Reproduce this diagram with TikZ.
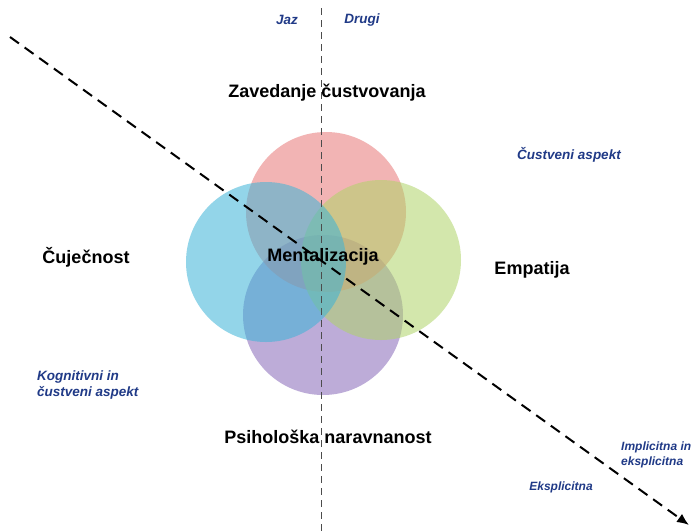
\documentclass[tikz,border=0pt]{standalone}
\usepackage{fontspec}
\setmainfont{Liberation Sans}
\usetikzlibrary{arrows.meta}
\definecolor{labblue}{RGB}{32,58,135}
\definecolor{cred}{RGB}{232,120,120}
\definecolor{cblue}{RGB}{60,180,215}
\definecolor{cgreen}{RGB}{175,212,105}
\definecolor{cpurple}{RGB}{135,105,185}
\tikzset{
  circ/.style={circle, minimum size=160pt, inner sep=0pt, draw=none, fill opacity=0.55},
  mainlab/.style={font=\bfseries\fontsize{18}{20}\selectfont, text=black, inner sep=1pt},
  sidelab/.style={font=\bfseries\itshape\fontsize{13.5}{15.5}\selectfont, text=labblue, inner sep=1pt, align=left},
  smalllab/.style={sidelab, font=\bfseries\itshape\fontsize{12}{14.5}\selectfont},
  vline/.style={draw=black!70, line width=1pt, dash pattern=on 7pt off 5pt},
  dline/.style={draw=black, line width=2pt, dash pattern=on 11pt off 7pt, -{Latex[length=12pt,width=10pt]}}
}
\begin{document}
\begin{tikzpicture}[x=1pt,y=-1pt]
\useasboundingbox[fill=white] (0,0) rectangle (696,531);
% circles
\node[circ, fill=cpurple] (purple) at (323,315) {};
\node[circ, fill=cred] (red) at (326,212) {};
\node[circ, fill=cgreen] (green) at (381,260) {};
\node[circ, fill=cblue] (blue) at (266,262) {};
% lines
\coordinate (vt) at (321,8);
\coordinate (vb) at (321,531);
\draw[vline] (vt) -- (vb);
\coordinate (ds) at (10,37);
\coordinate (de) at (689,525);
\draw[dline] (ds) -- (de);
% main labels
\node[mainlab] (zav) at (327,93) {Zavedanje čustvovanja};
\node[mainlab] (cuj) at (86,257) {Čuječnost};
\node[mainlab] (men) at (323,257) {Mentalizacija};
\node[mainlab] (emp) at (532,270) {Empatija};
\node[mainlab] (psi) at (328,437) {Psihološka naravnanost};
% side labels
\node[sidelab] (jaz) at (287,20) {Jaz};
\node[sidelab] (drugi) at (362,20) {Drugi};
\node[sidelab] (cas) at (569,155) {Čustveni aspekt};
\node[sidelab, anchor=west] (kog) at (36,385) {Kognitivni in\\čustveni aspekt};
\node[smalllab, anchor=west] (imp) at (620,455) {Implicitna in\\eksplicitna};
\node[smalllab] (eks) at (561,487) {Eksplicitna};
\end{tikzpicture}
\end{document}
